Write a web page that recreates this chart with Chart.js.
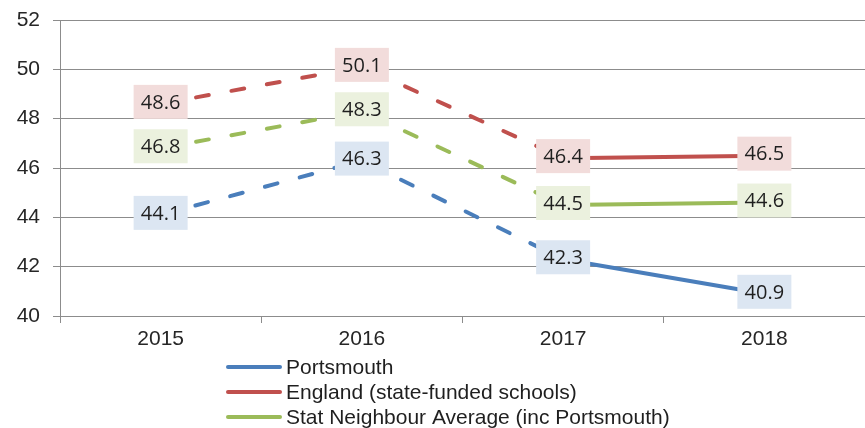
<!DOCTYPE html>
<html>
<head>
<meta charset="utf-8">
<script src="https://cdn.jsdelivr.net/npm/chart.js@4.4.1/dist/chart.umd.min.js"></script>
<style>
  html, body { margin: 0; padding: 0; background: #fff; }
  #wrap { width: 865px; height: 428px; }
</style>
</head>
<body>
<div id="wrap"><canvas id="myChart" width="865" height="428"></canvas></div>
<script>
const years = ['2015', '2016', '2017', '2018'];
const portsmouth = [44.1, 46.3, 42.3, 40.9];
const england = [48.6, 50.1, 46.4, 46.5];
const statNeighbour = [46.8, 48.3, 44.5, 44.6];
const yTicks = [40, 42, 44, 46, 48, 50, 52];

const tickFont = { family: 'Liberation Sans, Arial, sans-serif', size: 21 };
const dashed = [13, 23];

function makeSet(label, values, color, boxColor) {
    return {
        label: label,
        data: values,
        borderColor: color,
        backgroundColor: color,
        labelBox: boxColor,
        borderWidth: 4,
        borderCapStyle: 'round',
        pointRadius: 0,
        pointHoverRadius: 0,
        tension: 0,
        segment: {
            borderDash: ctx => ctx.p1DataIndex <= 2 ? dashed : []
        }
    };
}

// value boxes drawn over the lines
const valueBoxes = {
    id: 'valueBoxes',
    afterDatasetsDraw(chart) {
        const c = chart.ctx;
        c.save();
        c.font = '20px "Open Sans", "Noto Sans", sans-serif';
        c.textAlign = 'center';
        c.textBaseline = 'middle';
        chart.data.datasets.forEach((ds, i) => {
            const meta = chart.getDatasetMeta(i);
            meta.data.forEach((pt, j) => {
                const w = 54, h = 34;
                const x = pt.x, y = pt.y - 2;
                c.fillStyle = ds.labelBox;
                c.fillRect(x - w / 2, y - h / 2, w, h);
                c.fillStyle = '#1f1f1f';
                c.fillText(ds.data[j].toFixed(1), x, y + 1);
            });
        });
        c.restore();
    }
};

// vertical legend under the axis
const sideLegend = {
    id: 'sideLegend',
    afterDraw(chart) {
        const c = chart.ctx;
        c.save();
        c.font = '21px "Liberation Sans", Arial, sans-serif';
        c.textBaseline = 'middle';
        c.textAlign = 'left';
        chart.data.datasets.forEach((ds, i) => {
            const y = 367 + i * 25;
            c.strokeStyle = ds.borderColor;
            c.lineWidth = 4;
            c.lineCap = 'round';
            c.beginPath();
            c.moveTo(228, y);
            c.lineTo(280, y);
            c.stroke();
            c.fillStyle = '#1f1f1f';
            c.fillText(ds.label, 286, y + 1);
        });
        c.restore();
    }
};

let data = {
    labels: years,
    datasets: [
        makeSet('Portsmouth', portsmouth, '#4a7ebb', '#dce6f2'),
        makeSet('England (state-funded schools)', england, '#c0504d', '#f2dcdb'),
        makeSet('Stat Neighbour Average (inc Portsmouth)', statNeighbour, '#9bbb59', '#ebf1de')
    ]
};

let config = {
    type: 'line',
    data: data,
    options: {
        responsive: false,
        animation: false,
        layout: { padding: { top: 20, right: 0, bottom: 72, left: 0 } },
        plugins: {
            legend: { display: false },
            tooltip: { enabled: false }
        },
        scales: {
            x: {
                offset: true,
                grid: {
                    offset: true,
                    drawOnChartArea: false,
                    drawTicks: true,
                    tickLength: 7,
                    color: '#8c8c8c'
                },
                border: { color: '#8c8c8c', width: 1 },
                ticks: { font: tickFont, color: '#262626', padding: 4 },
                afterFit(scale) { scale.height = 40; }
            },
            y: {
                min: 40,
                max: 52,
                afterBuildTicks(scale) { scale.ticks = yTicks.map(v => ({ value: v })); },
                grid: { color: '#8c8c8c', tickLength: 7 },
                border: { color: '#8c8c8c', width: 1 },
                ticks: { font: tickFont, color: '#262626', padding: 13 },
                afterFit(scale) {
                    scale.width = 60;
                    scale.paddingTop = 0;
                    scale.paddingBottom = 0;
                }
            }
        }
    },
    plugins: [valueBoxes, sideLegend]
};

let myChart = new Chart(document.getElementById('myChart'), config);
</script>
</body>
</html>
